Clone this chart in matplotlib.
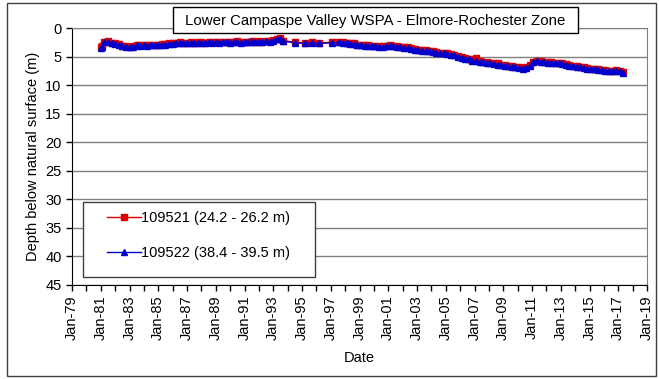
import matplotlib
matplotlib.use('Agg')
import matplotlib.pyplot as plt
from matplotlib.patches import Rectangle

plt.rcParams['font.family'] = ['Liberation Sans', 'DejaVu Sans']
plt.rcParams['font.size'] = 10.5

W, H = 659, 379

title = 'Lower Campaspe Valley WSPA - Elmore-Rochester Zone'
label_a = '109521 (24.2 - 26.2 m)'
label_b = '109522 (38.4 - 39.5 m)'

# decimal years of readings
dates = [
    1981.0, 1981.1, 1981.25, 1981.5, 1981.75, 1982.0, 1982.25, 1982.5, 1982.75,
    1983.0, 1983.25, 1983.5, 1983.75, 1984.0, 1984.25, 1984.5, 1984.75,
    1985.0, 1985.25, 1985.5, 1985.75, 1986.0, 1986.25, 1986.5, 1986.75,
    1987.0, 1987.25, 1987.5, 1987.75, 1988.0, 1988.25, 1988.5, 1988.75,
    1989.0, 1989.25, 1989.5, 1989.75, 1990.0, 1990.25, 1990.5, 1990.75,
    1991.0, 1991.25, 1991.5, 1991.75, 1992.0, 1992.25, 1992.5, 1992.75,
    1993.0, 1993.25, 1993.5, 1993.7,
    1994.5, 1995.2, 1995.7, 1996.2, 1997.1, 1997.6,
    1997.85, 1998.1, 1998.35, 1998.6, 1998.85, 1999.1, 1999.35, 1999.6, 1999.85,
    2000.1, 2000.35, 2000.6, 2000.85, 2001.1, 2001.35, 2001.6, 2001.85,
    2002.1, 2002.35, 2002.6, 2002.85, 2003.1, 2003.35, 2003.6, 2003.85,
    2004.1, 2004.35, 2004.6, 2004.85, 2005.1, 2005.35, 2005.6, 2005.85,
    2006.1, 2006.35, 2006.6, 2006.85, 2007.1, 2007.35, 2007.6, 2007.85,
    2008.1, 2008.35, 2008.6, 2008.85, 2009.1, 2009.35, 2009.6, 2009.85,
    2010.1, 2010.35, 2010.6, 2010.85, 2011.1, 2011.35, 2011.6, 2011.85,
    2012.1, 2012.35, 2012.6, 2012.85, 2013.1, 2013.35, 2013.6, 2013.85,
    2014.1, 2014.35, 2014.6, 2014.85, 2015.1, 2015.35, 2015.6, 2015.85,
    2016.1, 2016.35, 2016.6, 2016.85, 2017.1, 2017.35,
]

depth_a = [
    3.4, 3.2, 2.4, 2.3, 2.6, 2.7, 2.8, 3.1, 3.2,
    3.3, 3.2, 2.9, 3.0, 2.9, 3.0, 2.9, 2.9,
    2.9, 2.8, 2.8, 2.7, 2.7, 2.6, 2.5, 2.6,
    2.6, 2.5, 2.6, 2.5, 2.5, 2.6, 2.4, 2.5,
    2.4, 2.5, 2.4, 2.4, 2.5, 2.4, 2.3, 2.5,
    2.4, 2.4, 2.3, 2.4, 2.3, 2.4, 2.2, 2.3,
    2.1, 1.9, 1.8, 2.2,
    2.5, 2.6, 2.5, 2.6, 2.5, 2.4,
    2.5, 2.6, 2.7, 2.7, 2.9, 2.9, 3.0, 3.0, 3.1,
    3.1, 3.2, 3.2, 3.1, 3.0, 3.1, 3.2, 3.3,
    3.4, 3.4, 3.5, 3.7, 3.8, 3.9, 3.9, 4.0,
    4.1, 4.2, 4.3, 4.3, 4.4, 4.6, 4.7, 4.9,
    5.1, 5.3, 5.4, 5.6, 5.3, 5.8, 5.9, 6.0,
    6.1, 6.2, 6.2, 6.4, 6.5, 6.6, 6.7, 6.8,
    6.9, 7.0, 6.9, 6.5, 5.9, 5.7, 5.8, 5.9,
    6.0, 6.0, 6.1, 6.1, 6.2, 6.3, 6.5, 6.6,
    6.7, 6.8, 6.9, 7.0, 7.1, 7.1, 7.2, 7.3,
    7.4, 7.5, 7.5, 7.4, 7.5, 7.7,
]

depth_b = [
    3.5, 3.3, 2.5, 2.4, 2.7, 2.8, 2.9, 3.2, 3.3,
    3.4, 3.3, 3.0, 3.1, 3.0, 3.1, 3.0, 3.0,
    3.0, 2.9, 2.9, 2.8, 2.8, 2.7, 2.6, 2.7,
    2.7, 2.6, 2.7, 2.6, 2.6, 2.7, 2.5, 2.6,
    2.5, 2.6, 2.5, 2.5, 2.6, 2.5, 2.4, 2.6,
    2.5, 2.5, 2.4, 2.5, 2.4, 2.5, 2.3, 2.4,
    2.2, 2.0, 1.9, 2.3,
    2.6, 2.7, 2.6, 2.7, 2.6, 2.5,
    2.6, 2.7, 2.8, 2.8, 3.0, 3.0, 3.1, 3.1, 3.2,
    3.2, 3.3, 3.3, 3.2, 3.1, 3.2, 3.3, 3.4,
    3.5, 3.5, 3.6, 3.8, 3.9, 4.0, 4.0, 4.1,
    4.2, 4.3, 4.4, 4.4, 4.5, 4.7, 4.8, 5.0,
    5.2, 5.4, 5.5, 5.7, 5.8, 5.9, 6.0, 6.1,
    6.2, 6.3, 6.4, 6.5, 6.6, 6.7, 6.8, 6.9,
    7.0, 7.1, 7.0, 6.6, 6.0, 5.8, 5.9, 6.0,
    6.1, 6.1, 6.2, 6.2, 6.3, 6.4, 6.6, 6.7,
    6.8, 6.9, 7.0, 7.1, 7.2, 7.2, 7.3, 7.4,
    7.5, 7.6, 7.6, 7.5, 7.6, 7.8,
]

year_ticks = list(range(1979, 2020, 2))
year_minor = list(range(1979, 2020))


def fig_box(x0, y0, x1, y1):
    # pixel box (top-left origin) -> figure fraction rectangle args
    return (x0 / W, 1 - y1 / H), (x1 - x0) / W, (y1 - y0) / H


fig = plt.figure(figsize=(W / 100, H / 100), dpi=100)
ax = fig.add_axes([72 / W, 1 - 285 / H, 575 / W, 257 / H])

ax.plot(dates, depth_a, color='#e00000', marker='s', markersize=4,
        linewidth=1, label=label_a, zorder=3)
ax.plot(dates, depth_b, color='#0000cc', marker='^', markersize=4,
        linewidth=1, label=label_b, zorder=4)

ax.set_xlim(1979, 2019)
ax.set_ylim(45, 0)
ax.set_yticks(range(0, 46, 5))
ax.set_xticks(year_ticks)
ax.set_xticks(year_minor, minor=True)
ax.set_xticklabels(['Jan-%02d' % (y % 100) for y in year_ticks], rotation=90)
ax.tick_params(axis='both', direction='out', length=4, width=1, colors='black')
ax.tick_params(axis='x', which='minor', direction='out', length=4, width=1)
ax.grid(axis='y', color='#808080', linewidth=1)
ax.set_axisbelow(True)

for s in ['top', 'right']:
    ax.spines[s].set_color('#808080')
for s in ['left', 'bottom']:
    ax.spines[s].set_color('black')

ax.set_ylabel('Depth below natural surface (m)', labelpad=4)
ax.set_xlabel('Date', labelpad=8)

# legend box drawn by hand so the padding matches
xy, w, h = fig_box(83, 202, 315, 277)
ax.add_patch(Rectangle(xy, w, h, transform=fig.transFigure,
                       facecolor='white', edgecolor='#404040',
                       linewidth=1, zorder=5, clip_on=False))
leg = ax.legend(loc='upper left', bbox_to_anchor=(107 / W, 1 - 211 / H),
                bbox_transform=fig.transFigure, frameon=False,
                handlelength=2.3, borderpad=0, labelspacing=1.45,
                handletextpad=0.05, borderaxespad=0)
leg.set_zorder(6)

# title box
xy, w, h = fig_box(173, 7, 578, 33)
fig.patches.append(Rectangle(xy, w, h, transform=fig.transFigure,
                             facecolor='white', edgecolor='black',
                             linewidth=1, zorder=5))
fig.text(375.5 / W, 1 - 20.5 / H, title, ha='center', va='center',
         fontsize=10.8, zorder=6)

xy, w, h = fig_box(7, 3, 656, 376)
fig.patches.append(Rectangle(xy, w, h, transform=fig.transFigure, fill=False,
                             edgecolor='#404040', linewidth=1))

fig.savefig('out.png', dpi=100)
